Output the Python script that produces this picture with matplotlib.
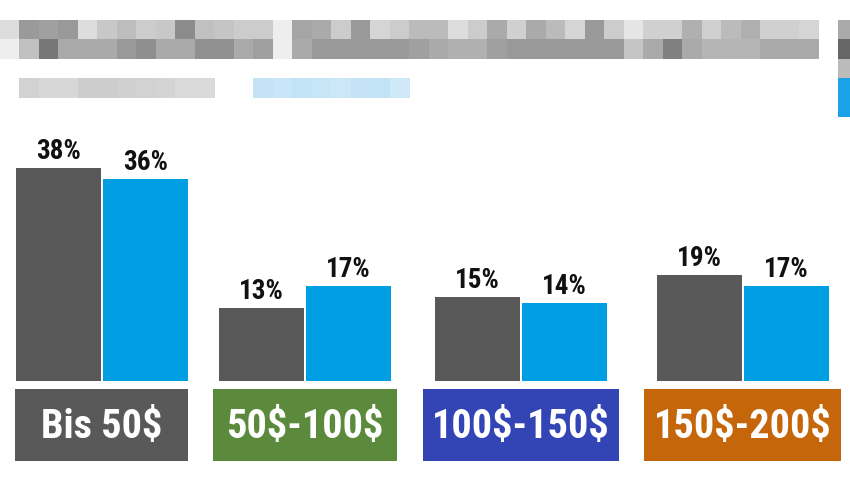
import os
import matplotlib
matplotlib.use("Agg")
import matplotlib.pyplot as plt
from matplotlib import font_manager
from matplotlib.font_manager import FontProperties
from matplotlib.patches import Rectangle

# ---- data ----
categories = ["Bis 50$", "50$-100$", "100$-150$", "150$-200$"]
share_dark = [38, 13, 15, 19]
share_blue = [36, 17, 14, 17]
category_colors = ["#595959", "#5b8a3c", "#3344b5", "#c6660b"]

# pixelated (unreadable) header, grey levels per 19.5px block
header_row1 = [221, 154, 160, 153, 221, 200, 189, 204, 200, 140, 192, 197, 204, 204, 238,
               165, 170, 204, 153, 213, 204, 187, 187, 221, 204, 170, 208, 170, 187, 213,
               153, 204, 229, 208, 208, 176, 208, 187, 176, 208, 208, 213]
header_row2 = [238, 192, 119, 170, 170, 170, 153, 143, 170, 170, 144, 144, 170, 160, 238,
               170, 153, 153, 153, 153, 153, 160, 170, 176, 176, 160, 153, 153, 153, 153,
               153, 153, 197, 170, 128, 170, 181, 181, 181, 170, 170, 170]
header_row3 = [210, 215, 215, 205, 205, 208, 210, 212, 218, 218]
header_blue = ["#c4e4f6", "#c8e6f7", "#c2e3f6", "#c6e5f7", "#cbe7f8", "#c4e4f6", "#c2e3f6", "#cfe9f8"]
edge_column = ["#aaaaaa", "#666666", "#bbbbbb", "#1aa2e6", "#1aa2e6"]

# ---- layout ----
W, H = 850, 478
BASE_Y = 381
PX_PER_PCT = 5.6
group_centers = [102, 305, 521, 743]
BAR_W = 85
box_spans = [(15, 188), (213, 397), (423, 619), (644, 841)]
BOX_TOP, BOX_BOT = 389, 461
DARK = "#595959"
BLUE = "#009fe3"
BLOCK = 19.5


def pick_font():
    files = font_manager.findSystemFonts() + [f.fname for f in font_manager.fontManager.ttflist]
    prefs = ["RobotoCondensed-Bold.", "Oswald-Bold.", "RobotoCondensed-Bold",
             "LiberationSansNarrow-Bold.", "DejaVuSansCondensed-Bold.", "Roboto-Bold."]
    for p in prefs:
        for f in files:
            b = os.path.basename(f)
            if b.startswith(p) and "Italic" not in b:
                return FontProperties(fname=f)
    return FontProperties(family="DejaVu Sans", weight="bold", stretch="condensed")


fp = pick_font()

fig = plt.figure(figsize=(W / 100, H / 100), dpi=100)
fig.patch.set_facecolor("white")

# background / decoration axes in pixel coordinates
bg = fig.add_axes([0, 0, 1, 1])
bg.set_xlim(0, W)
bg.set_ylim(H, 0)
bg.axis("off")

for row_y, row in [(19.5, header_row1), (39, header_row2)]:
    for k, g in enumerate(row):
        c = g / 255
        bg.add_patch(Rectangle((k * BLOCK, row_y), BLOCK + 0.4, BLOCK, color=(c, c, c), lw=0))
for k, g in enumerate(header_row3):
    c = g / 255
    bg.add_patch(Rectangle(((k + 1) * BLOCK, 78), BLOCK + 0.4, BLOCK, color=(c, c, c), lw=0))
for k, col in enumerate(header_blue):
    bg.add_patch(Rectangle(((k + 13) * BLOCK, 78), BLOCK + 0.4, BLOCK, color=col, lw=0))
for k, col in enumerate(edge_column):
    bg.add_patch(Rectangle((43 * BLOCK, 19.5 + k * BLOCK), BLOCK, BLOCK + 0.4, color=col, lw=0))

# category boxes
fpl = fp.copy()
fpl.set_size(29)
for (x0, x1), label, col in zip(box_spans, categories, category_colors):
    bg.add_patch(Rectangle((x0, BOX_TOP), x1 - x0, BOX_BOT - BOX_TOP, color=col, lw=0))
    bg.text((x0 + x1) / 2, 438, label, color="white",
            ha="center", va="baseline", fontproperties=fpl, parse_math=False)

# bar axes
top_px = 121
ax = fig.add_axes([0, (H - BASE_Y) / H, 1, (BASE_Y - top_px) / H])
ax.set_xlim(0, W)
ax.set_ylim(0, (BASE_Y - top_px) / PX_PER_PCT)
ax.axis("off")
ax.patch.set_alpha(0)

off = BAR_W / 2 + 1
xd = [c - off for c in group_centers]
xb = [c + off for c in group_centers]
ax.bar(xd, share_dark, width=BAR_W, color=DARK, linewidth=0)
ax.bar(xb, share_blue, width=BAR_W, color=BLUE, linewidth=0)

fpv = fp.copy()
fpv.set_size(19.5)
for xs, vals in [(xd, share_dark), (xb, share_blue)]:
    for x, v in zip(xs, vals):
        ax.annotate(f"{v}%", (x, v), xytext=(0, 9), textcoords="offset pixels",
                    ha="center", va="baseline", color="#111111", fontproperties=fpv)

fig.savefig("out.png", dpi=100, facecolor="white")
